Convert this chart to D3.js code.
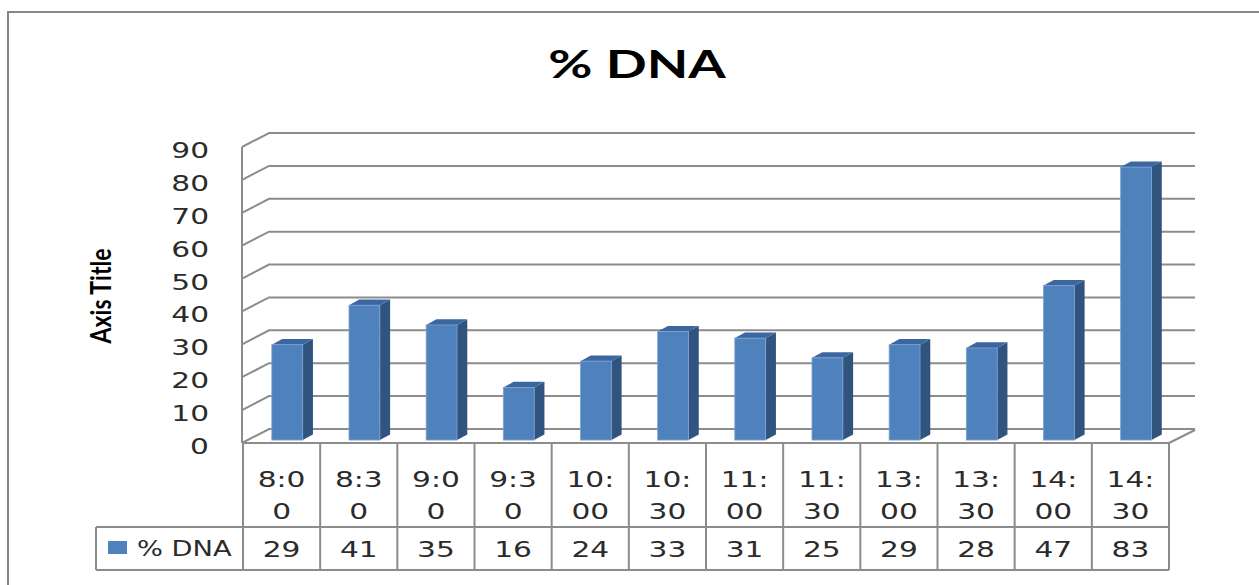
<!DOCTYPE html>
<html>
<head>
<meta charset="utf-8">
<script src="https://cdn.jsdelivr.net/npm/d3@7"></script>
<style>
  html, body { margin: 0; padding: 0; background: #fff; }
  svg { display: block; }
</style>
</head>
<body>
<svg id="chart" width="1259" height="585"></svg>
<script>
// ---- data ----
const chartTitle = "% DNA";
const axisTitle = "Axis Title";
const seriesName = "% DNA";
const categories = ["8:00", "8:30", "9:00", "9:30", "10:00", "10:30", "11:00", "11:30", "13:00", "13:30", "14:00", "14:30"];
const values = [29, 41, 35, 16, 24, 33, 31, 25, 29, 28, 47, 83];
const yTicks = [0, 10, 20, 30, 40, 50, 60, 70, 80, 90];

// ---- layout ----
const svg = d3.select("#chart");
const gridColor = "#8c8c8c";
const textColor = "#2b2b2b";
const textSx = 1.38;            // horizontal stretch of the text
const floorY = 443;
const depth = { dx: 27, dy: -14 };   // front-to-back offset of the 3D walls
const plotLeft = 243, plotRight = 1169;

const x = d3.scaleBand().domain(categories).range([plotLeft, plotRight]);
const y = d3.scaleLinear().domain([0, 90]).range([floorY, 147]);

// outer chart border
svg.append("rect")
  .attr("x", 8).attr("y", 12).attr("width", 1270).attr("height", 600)
  .attr("fill", "none").attr("stroke", "#878787").attr("stroke-width", 2);

// title
svg.append("text")
  .attr("transform", `translate(637,78) scale(1.42,1)`)
  .attr("text-anchor", "middle")
  .attr("font-family", "Lato, 'DejaVu Sans', sans-serif")
  .attr("font-weight", "bold")
  .attr("font-size", 38)
  .attr("fill", "#000")
  .text(chartTitle);

// axis title (rotated)
svg.append("text")
  .attr("transform", `translate(111,296) scale(1.25,1) rotate(-90)`)
  .attr("text-anchor", "middle")
  .attr("font-family", "Lato, 'DejaVu Sans', sans-serif")
  .attr("font-weight", "bold")
  .attr("font-size", 23)
  .attr("fill", "#000")
  .text(axisTitle);

// ---- walls: gridlines on side wall + back wall ----
const grid = svg.append("g").attr("fill", "none").attr("stroke", gridColor).attr("stroke-width", 2);
grid.selectAll("path.grid")
  .data(yTicks)
  .join("path")
  .attr("class", "grid")
  .attr("d", v => {
    const yf = y(v);
    return `M${plotLeft - 1},${yf} L${plotLeft - 1 + depth.dx},${yf + depth.dy} L${plotRight + depth.dx - 1},${yf + depth.dy}`;
  });
// side wall front edge (vertical axis line)
grid.append("line")
  .attr("x1", plotLeft - 1).attr("x2", plotLeft - 1)
  .attr("y1", y(90)).attr("y2", y(0));
// floor right edge
grid.append("line")
  .attr("x1", plotRight).attr("y1", floorY)
  .attr("x2", plotRight + depth.dx - 1).attr("y2", floorY + depth.dy + 1);

// y tick labels
svg.append("g").selectAll("text")
  .data(yTicks)
  .join("text")
  .attr("transform", v => `translate(209,${y(v) + 11}) scale(${textSx},1)`)
  .attr("text-anchor", "end")
  .attr("font-family", "'DejaVu Sans', sans-serif")
  .attr("font-size", 21.5)
  .attr("fill", textColor)
  .text(v => v);

// ---- 3D columns ----
const bw = x.bandwidth() * 0.4;
const bOff = { dx: depth.dx * 0.21, dy: depth.dy * 0.21 };   // column front face inside the floor
const bDep = { dx: depth.dx * 0.38, dy: depth.dy * 0.4 };    // column depth
const bars = svg.append("g").selectAll("g")
  .data(categories.map((c, i) => ({ c, v: values[i] })))
  .join("g");

const frontX = d => x(d.c) + x.bandwidth() / 2 - bw / 2 + bOff.dx;
const baseY = floorY + bOff.dy;
const topY = d => y(d.v) + bOff.dy;

// side face
bars.append("path")
  .attr("fill", "#31547f")
  .attr("d", d => {
    const x1 = frontX(d) + bw, t = topY(d);
    return `M${x1},${t} L${x1 + bDep.dx},${t + bDep.dy} L${x1 + bDep.dx},${baseY + bDep.dy} L${x1},${baseY} Z`;
  });
// top face
bars.append("path")
  .attr("fill", "#3c66a0")
  .attr("d", d => {
    const x0 = frontX(d), t = topY(d);
    return `M${x0},${t} L${x0 + bDep.dx},${t + bDep.dy} L${x0 + bw + bDep.dx},${t + bDep.dy} L${x0 + bw},${t} Z`;
  });
// front face
bars.append("rect")
  .attr("fill", "#4f81bd")
  .attr("stroke", "#7ea3d2")
  .attr("stroke-width", 0.8)
  .attr("x", d => frontX(d))
  .attr("y", d => topY(d))
  .attr("width", bw)
  .attr("height", d => baseY - topY(d));

// ---- data table ----
const rowTop = floorY, rowMid = 527, rowBot = 570, legendLeft = 96;
const table = svg.append("g").attr("stroke", gridColor).attr("stroke-width", 2);
table.append("line").attr("x1", plotLeft).attr("x2", plotRight).attr("y1", rowTop).attr("y2", rowTop);
table.append("line").attr("x1", legendLeft).attr("x2", plotRight).attr("y1", rowMid).attr("y2", rowMid);
table.append("line").attr("x1", legendLeft).attr("x2", plotRight).attr("y1", rowBot).attr("y2", rowBot);
table.append("line").attr("x1", legendLeft).attr("x2", legendLeft).attr("y1", rowMid).attr("y2", rowBot);
table.selectAll("line.col")
  .data(categories.map(c => x(c)).concat([plotRight]))
  .join("line")
  .attr("class", "col")
  .attr("x1", d => d).attr("x2", d => d)
  .attr("y1", rowTop).attr("y2", rowBot);

const cellText = svg.append("g")
  .attr("font-family", "'DejaVu Sans', sans-serif")
  .attr("font-size", 21.5)
  .attr("fill", textColor)
  .attr("text-anchor", "middle");

// category headers, wrapped to three characters per line
categories.forEach(c => {
  const lines = [c.slice(0, 3), c.slice(3)];
  lines.forEach((ln, k) => {
    cellText.append("text")
      .attr("transform", `translate(${x(c) + x.bandwidth() / 2},${487 + k * 32.3}) scale(${textSx},1)`)
      .text(ln);
  });
});

// values row
cellText.selectAll("text.val")
  .data(categories.map((c, i) => ({ c, v: values[i] })))
  .join("text")
  .attr("class", "val")
  .attr("transform", d => `translate(${x(d.c) + x.bandwidth() / 2},557) scale(${textSx},1)`)
  .text(d => d.v);

// legend key in the table
svg.append("rect")
  .attr("x", 108).attr("y", 541).attr("width", 19).attr("height", 13)
  .attr("fill", "#4f81bd");
svg.append("text")
  .attr("transform", `translate(137,556) scale(1.3,1)`)
  .attr("font-family", "'DejaVu Sans', sans-serif")
  .attr("font-size", 21)
  .attr("fill", textColor)
  .text(seriesName);
</script>
</body>
</html>
